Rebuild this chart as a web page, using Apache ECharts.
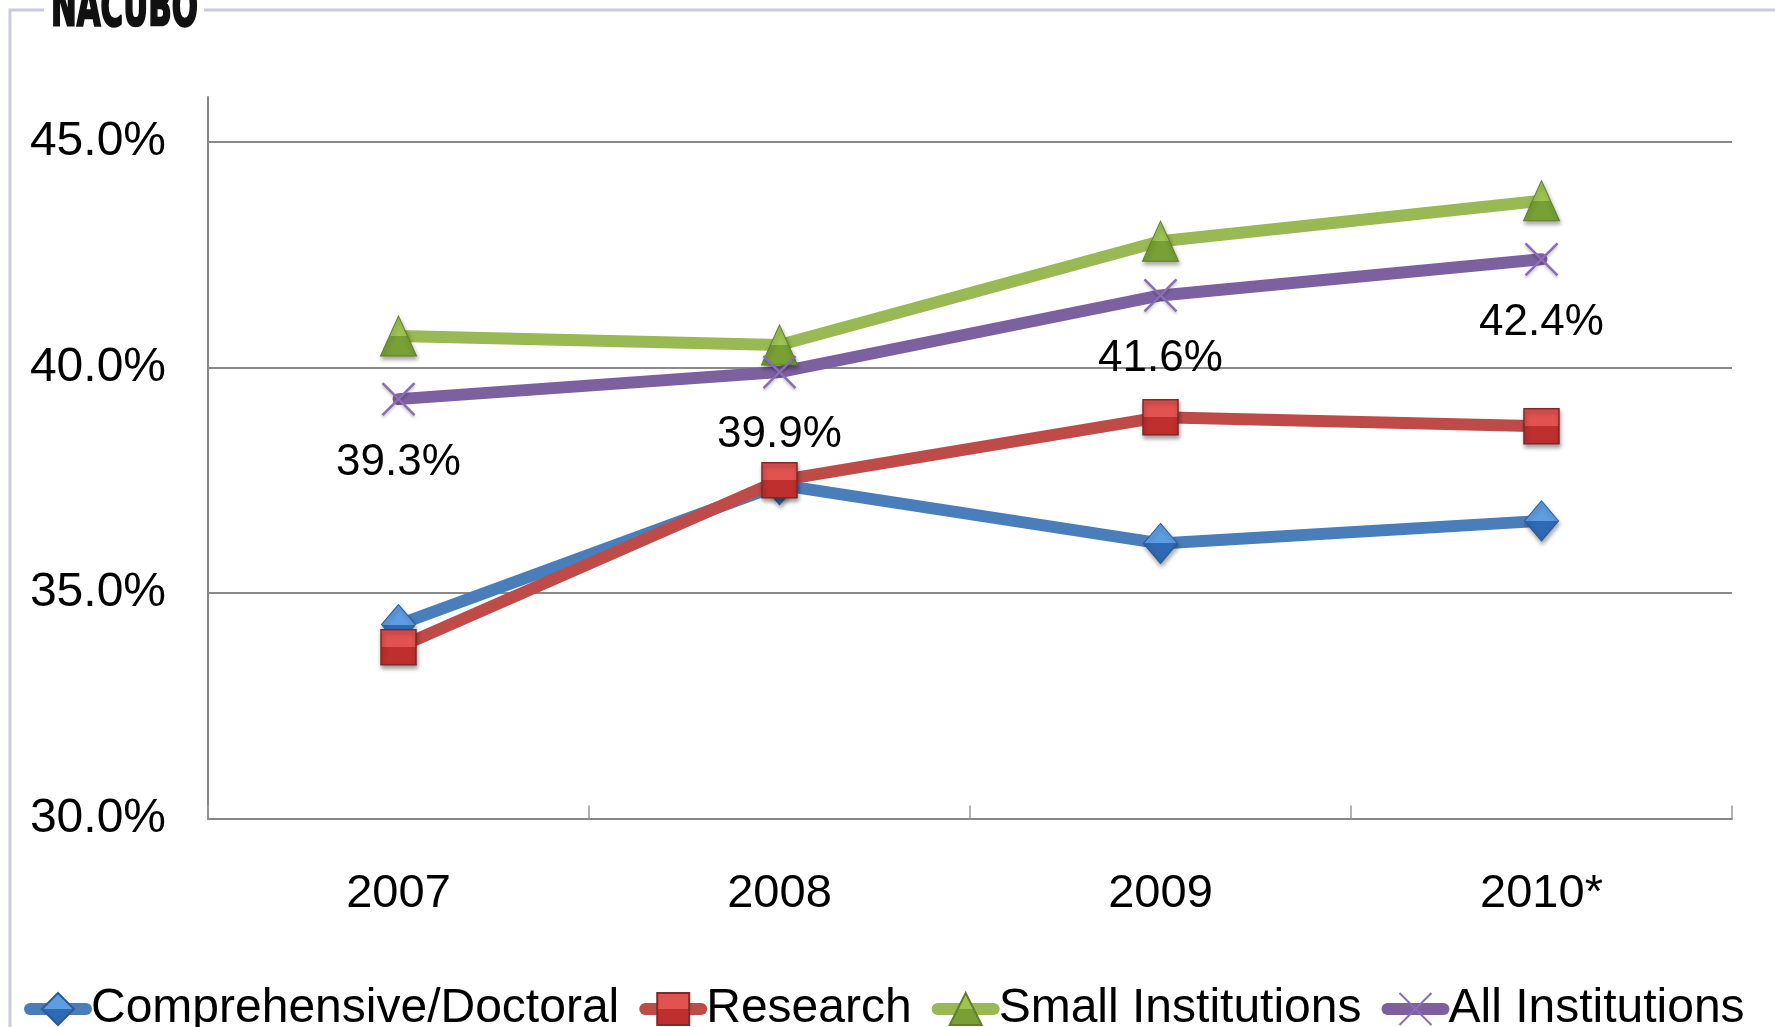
<!DOCTYPE html>
<html>
<head>
<meta charset="utf-8">
<title>Share of revenue by institution type, 2007-2010</title>
<script src="https://cdn.jsdelivr.net/npm/echarts@6/dist/echarts.min.js"></script>
<style>
  html, body { margin: 0; padding: 0; background: #ffffff; }
  #chart { width: 1775px; height: 1027px; }
</style>
</head>
<body>
<div id="chart"></div>
<script>
// Fiscal years on the category axis
const years = ['2007', '2008', '2009', '2010*'];

// Percentages by institution group
const comprehensiveDoctoral = [34.3, 37.4, 36.1, 36.6];
const research = [33.8, 37.5, 38.9, 38.7];
const smallInstitutions = [40.7, 40.5, 42.8, 43.7];
const allInstitutions = [39.3, 39.9, 41.6, 42.4];

// Value axis range
const yMin = 30;
const yMax = 46;
const yStep = 5;

const FONT = '"Liberation Sans", Arial, sans-serif';

function grad(top, bottom) {
  return new echarts.graphic.LinearGradient(0, 0, 0, 1, [
    { offset: 0, color: top },
    { offset: 0.5, color: top },
    { offset: 0.5, color: bottom },
    { offset: 1, color: bottom }
  ]);
}

const markerShadow = {
  shadowBlur: 4,
  shadowOffsetX: 1,
  shadowOffsetY: 3,
  shadowColor: 'rgba(0,0,0,0.35)'
};

const chart = echarts.init(document.getElementById('chart'), null, { renderer: 'canvas' });

chart.setOption({
  backgroundColor: '#ffffff',
  animation: false,
  graphic: [
    {
      type: 'rect',
      silent: true,
      z: -10,
      shape: { x: 10, y: 10, width: 1820, height: 1100 },
      style: { fill: 'none', stroke: '#c9c9e3', lineWidth: 3 }
    },
    {
      type: 'rect',
      silent: true,
      z: -5,
      shape: { x: 44, y: 0, width: 160, height: 32 },
      style: { fill: '#ffffff' }
    },
    {
      type: 'text',
      silent: true,
      x: 51,
      y: 11,
      scaleX: 0.56,
      style: {
        text: 'NACUBO',
        fill: '#111111',
        stroke: '#111111',
        lineWidth: 2.5,
        font: 'bold 55px "DejaVu Sans", sans-serif',
        align: 'left',
        verticalAlign: 'middle'
      }
    }
  ],
  grid: {
    left: 208,
    right: 43,
    top: 97,
    bottom: 208.5,
    containLabel: false
  },
  legend: {
    left: 24,
    right: 0,
    top: 985,
    padding: 0,
    itemWidth: 56,
    itemHeight: 40,
    itemGap: 20,
    textStyle: { fontFamily: FONT, fontSize: 48, color: '#000000', padding: [0, 0, 0, 0] },
    lineStyle: { width: 12, cap: 'round' },
    data: ['Comprehensive/Doctoral', 'Research', 'Small Institutions', 'All Institutions']
  },
  xAxis: {
    type: 'category',
    data: years,
    boundaryGap: true,
    axisLine: { show: true, lineStyle: { color: '#878787', width: 2 } },
    axisTick: { show: true, inside: true, length: 13, lineStyle: { color: '#9a9a9a', width: 1.5 } },
    axisLabel: {
      fontFamily: FONT,
      fontSize: 47,
      lineHeight: 48,
      color: '#000000',
      margin: 52
    },
    splitLine: { show: false }
  },
  yAxis: {
    type: 'value',
    min: yMin,
    max: yMax,
    interval: yStep,
    axisLine: { show: true, lineStyle: { color: '#878787', width: 2 } },
    axisTick: { show: false },
    axisLabel: {
      fontFamily: FONT,
      fontSize: 48,
      color: '#000000',
      margin: 42,
      showMaxLabel: false,
      formatter: function (v) { return v % yStep === 0 ? v.toFixed(1) + '%' : ''; }
    },
    splitLine: { show: true, showMinLine: false, showMaxLine: false, lineStyle: { color: '#8a8a8a', width: 2 } }
  },
  series: [
    {
      name: 'Comprehensive/Doctoral',
      type: 'line',
      data: comprehensiveDoctoral,
      symbol: 'diamond',
      symbolSize: [34, 40],
      lineStyle: { color: '#4a7ebb', width: 12, cap: 'round', join: 'round' },
      itemStyle: Object.assign({ color: grad('#5e9de2', '#2f69b3'), borderColor: '#2b5a96', borderWidth: 1 }, markerShadow)
    },
    {
      name: 'Research',
      type: 'line',
      data: research,
      symbol: 'rect',
      symbolSize: 35,
      lineStyle: { color: '#be4b48', width: 12, cap: 'round', join: 'round' },
      itemStyle: Object.assign({ color: grad('#e2524f', '#bf2f2e'), borderColor: '#7f2a28', borderWidth: 1.5 }, markerShadow)
    },
    {
      name: 'Small Institutions',
      type: 'line',
      data: smallInstitutions,
      symbol: 'triangle',
      symbolSize: [36, 40],
      lineStyle: { color: '#98b954', width: 12, cap: 'round', join: 'round' },
      itemStyle: Object.assign({ color: grad('#9dc552', '#78a035'), borderColor: '#5f7f2e', borderWidth: 1 }, markerShadow)
    },
    {
      name: 'All Institutions',
      type: 'line',
      data: allInstitutions,
      symbol: 'path://M0,0L10,10M10,0L0,10',
      symbolSize: 32,
      lineStyle: { color: '#7d60a0', width: 12, cap: 'round', join: 'round' },
      itemStyle: { color: '#8a6db5', borderColor: '#8a6db5', borderWidth: 2.5, shadowBlur: 3, shadowOffsetY: 2, shadowColor: 'rgba(0,0,0,0.25)' },
      label: {
        show: true,
        position: 'bottom',
        distance: 24,
        fontFamily: FONT,
        fontSize: 44,
        color: '#000000',
        formatter: function (p) { return p.value.toFixed(1) + '%'; }
      }
    }
  ]
});
</script>
</body>
</html>
